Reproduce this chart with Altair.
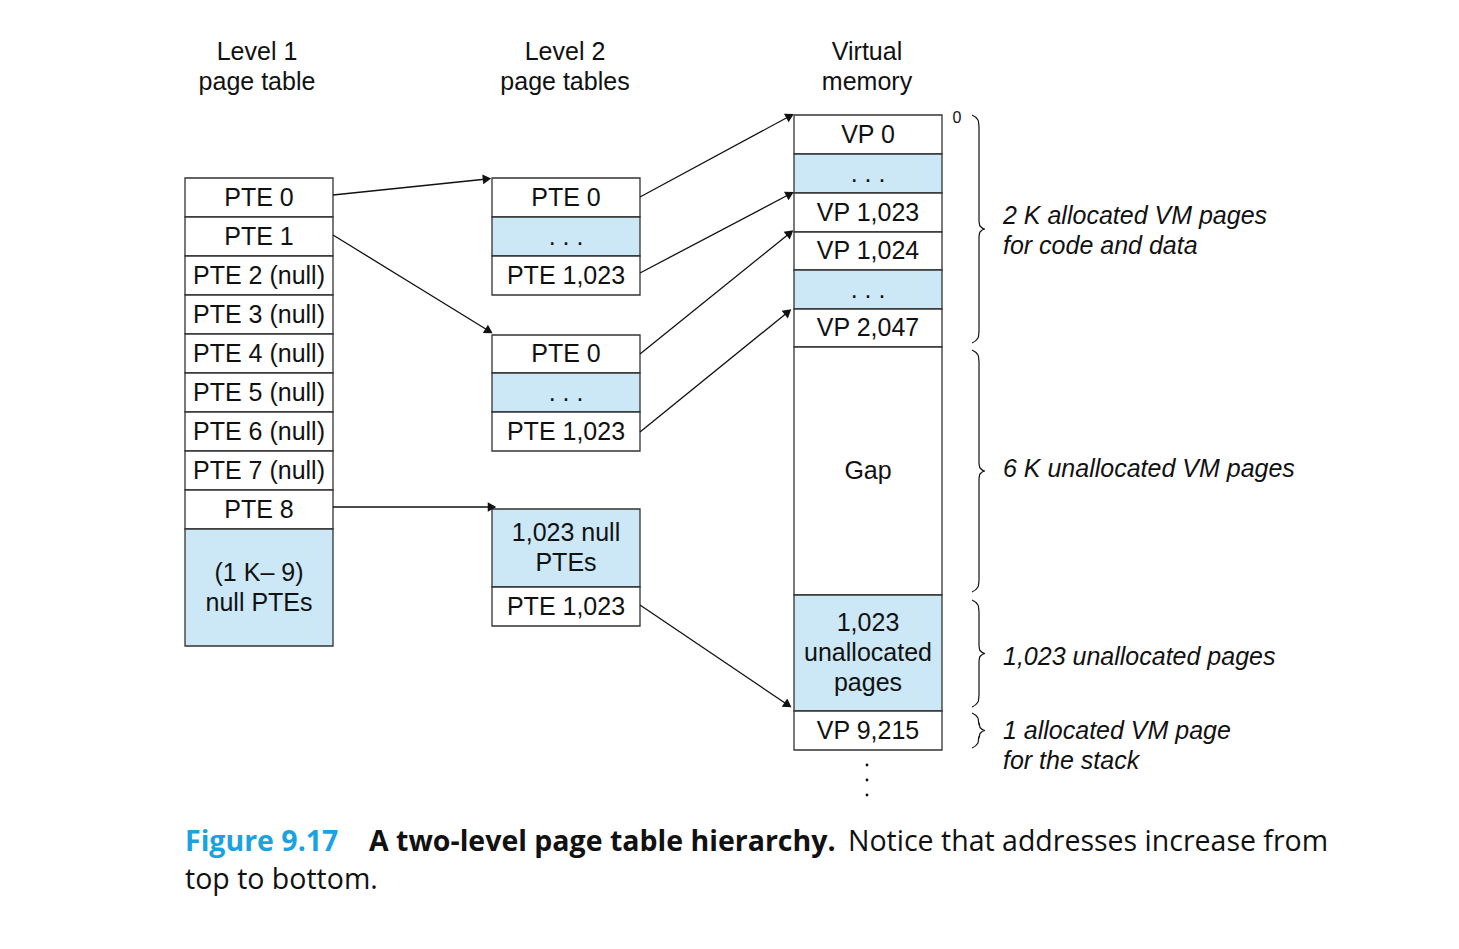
import math

import altair as alt
import pandas as pd

BLUE = "#cce8f6"
WHITE = "#ffffff"

# --- table cells: (x-left, x-right, top, bottom, fill, label) in picture pixels
l1_labels = ["PTE 0", "PTE 1", "PTE 2 (null)", "PTE 3 (null)", "PTE 4 (null)",
             "PTE 5 (null)", "PTE 6 (null)", "PTE 7 (null)", "PTE 8"]
l1_tops = [178, 217, 256, 295, 334, 373, 412, 451, 490]

l2_cells = [
    (178, 217, WHITE, "PTE 0"), (217, 256, BLUE, ". . ."), (256, 295, WHITE, "PTE 1,023"),
    (335, 373, WHITE, "PTE 0"), (373, 412, BLUE, ". . ."), (412, 451, WHITE, "PTE 1,023"),
    (509, 587, BLUE, "1,023 null\nPTEs"), (587, 626, WHITE, "PTE 1,023"),
]
vm_cells = [
    (115, 154, WHITE, "VP 0"), (154, 193, BLUE, ". . ."), (193, 232, WHITE, "VP 1,023"),
    (232, 270, WHITE, "VP 1,024"), (270, 309, BLUE, ". . ."), (309, 347, WHITE, "VP 2,047"),
    (347, 595, WHITE, "Gap"), (595, 711, BLUE, "1,023\nunallocated\npages"),
    (711, 750, WHITE, "VP 9,215"),
]

arrows = [  # (x0, y0, x1, y1)
    (333, 195, 487, 179), (333, 235, 489, 331), (640, 197, 790, 116),
    (640, 273, 790, 194), (640, 354, 790, 233), (640, 432, 788, 312),
    (333, 507, 492, 507), (640, 605, 788, 705),
]
braces = [(115, 343), (350, 592), (600, 707), (713, 748)]

headers = [("Level 1\npage table", 257), ("Level 2\npage tables", 565), ("Virtual\nmemory", 867)]
notes = [("2 K allocated VM pages\nfor code and data", 216),
         ("6 K unallocated VM pages", 469),
         ("1,023 unallocated pages", 657),
         ("1 allocated VM page\nfor the stack", 731)]

LH = 30

rows = []
for t, lab in zip(l1_tops, l1_labels):
    rows.append(dict(x=185, x2=333, y=t, y2=t + 39, fill=WHITE, label=lab))
rows.append(dict(x=185, x2=333, y=529, y2=646, fill=BLUE, label="(1 K– 9)\nnull PTEs"))
for t, b, f, lab in l2_cells:
    rows.append(dict(x=492, x2=640, y=t, y2=b, fill=f, label=lab))
for t, b, f, lab in vm_cells:
    rows.append(dict(x=794, x2=942, y=t, y2=b, fill=f, label=lab))
cells = pd.DataFrame(rows)
cells["cx"] = (cells.x + cells.x2) / 2
nlines = cells.label.str.count("\n")
cells["cy"] = (cells.y + cells.y2) / 2 - nlines * LH / 2

X = alt.Scale(domain=[8, 1451], range=[0, 1443])
Y = alt.Scale(domain=[8, 941], range=[0, 933])


def xe(f):
    return alt.X(f, type="quantitative", scale=X, axis=None)


def ye(f):
    return alt.Y(f, type="quantitative", scale=Y, axis=None)


rect = alt.Chart(cells).mark_rect(stroke="#333333", strokeWidth=1.3).encode(
    x=xe("x"), x2="x2", y=ye("y"), y2="y2",
    fill=alt.Fill("fill:N", scale=None))
cell_text = alt.Chart(cells).mark_text(
    font="Liberation Sans", fontSize=25, lineBreak="\n", lineHeight=LH, color="#111"
).encode(x=xe("cx"), y=ye("cy"), text="label:N")

arr = pd.DataFrame(arrows, columns=["x0", "y0", "x1", "y1"])
arr["ang"] = [math.degrees(math.atan2(r.x1 - r.x0, -(r.y1 - r.y0))) % 360 for r in arr.itertuples()]
lines = alt.Chart(arr).mark_rule(color="#111", strokeWidth=1.3).encode(
    x=xe("x0"), x2="x1", y=ye("y0"), y2="y1")
heads = alt.Chart(arr).mark_point(shape="triangle-up", filled=True, size=95, color="#111", opacity=1).encode(
    x=xe("x1"), y=ye("y1"), angle=alt.Angle("ang:Q", scale=None))

brow = []
for i, (a, b) in enumerate(braces):
    m = (a + b) / 2
    pts = [(972, a), (978, a + 5), (979, a + 12), (979, m - 8), (980, m - 3), (985, m),
           (980, m + 3), (979, m + 8), (979, b - 12), (978, b - 5), (972, b)]
    for k, (bx, by) in enumerate(pts):
        brow.append(dict(b=i, k=k, x=bx, y=by))
brace = alt.Chart(pd.DataFrame(brow)).mark_line(color="#111", strokeWidth=1.2, interpolate="monotone").encode(
    x=xe("x"), y=ye("y"), detail="b:N", order="k:Q")

hd = pd.DataFrame(headers, columns=["label", "x"]).assign(y=52)
head_text = alt.Chart(hd).mark_text(font="Liberation Sans", fontSize=25, lineBreak="\n", lineHeight=LH,
                                    color="#111").encode(x=xe("x"), y=ye("y"), text="label:N")
nt = pd.DataFrame(notes, columns=["label", "y"]).assign(x=1003)
note_text = alt.Chart(nt).mark_text(font="Liberation Sans", fontSize=25, fontStyle="italic", align="left",
                                    lineBreak="\n", lineHeight=LH, color="#111").encode(
    x=xe("x"), y=ye("y"), text="label:N")

zero = alt.Chart(pd.DataFrame(dict(x=[957], y=[118], t=["0"]))).mark_text(
    font="Liberation Sans", fontSize=16, color="#111").encode(x=xe("x"), y=ye("y"), text="t:N")
dots = alt.Chart(pd.DataFrame(dict(x=[867] * 3, y=[765, 780, 795]))).mark_circle(size=8, color="#111", opacity=1).encode(
    x=xe("x"), y=ye("y"))

cap = pd.DataFrame([
    dict(x=185, y=842, t="Figure 9.17", c="#1aa3e0", w="bold"),
    dict(x=369, y=842, t="A two-level page table hierarchy.", c="#111", w="bold"),
    dict(x=848, y=842, t="Notice that addresses increase from", c="#111", w="normal"),
    dict(x=185, y=880, t="top to bottom.", c="#111", w="normal"),
])
cap_layers = [
    alt.Chart(cap[cap.t == t]).mark_text(font="Open Sans", fontSize=28.5, align="left", color=c, fontWeight=w).encode(
        x=xe("x"), y=ye("y"), text="t:N")
    for t, c, w in zip(cap.t, cap.c, cap.w)
]

chart = alt.layer(rect, cell_text, lines, heads, brace, head_text, note_text,
                  zero, dots, *cap_layers).properties(
    width=1443, height=933, autosize=alt.AutoSizeParams(type="none"), padding=0
).configure_view(stroke=None)

chart.save("out.html", embed_options={"renderer": "svg", "actions": False})
